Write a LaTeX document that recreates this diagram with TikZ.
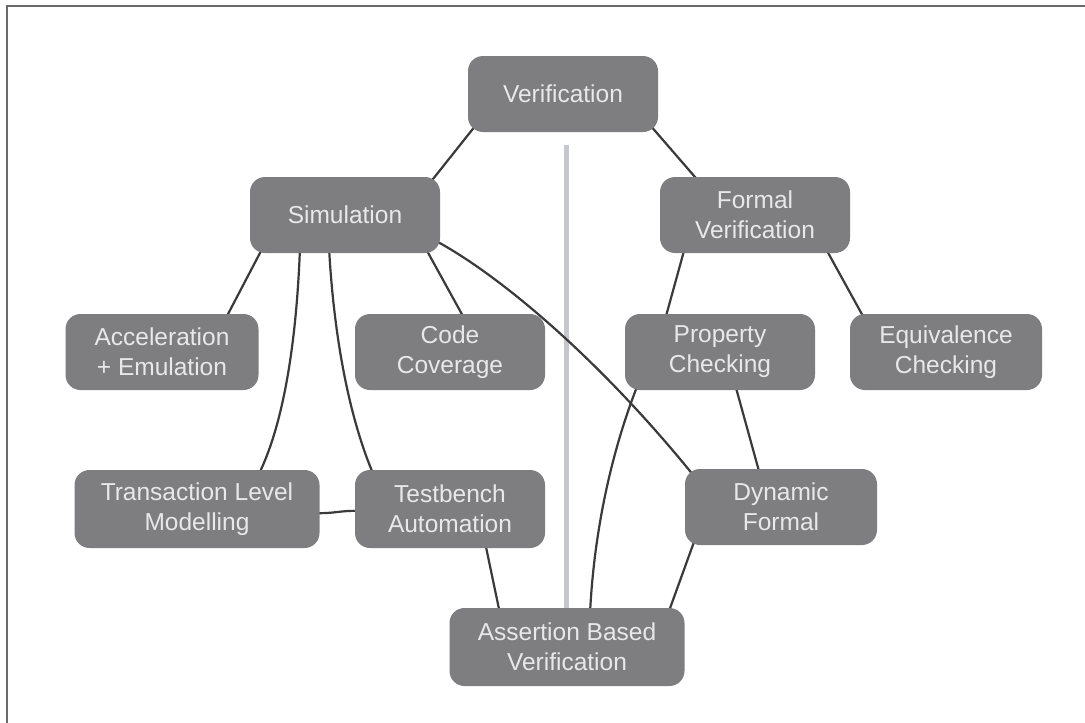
\documentclass[tikz,border=0pt]{standalone}
\usepackage{fontspec}
\setmainfont{Liberation Sans}
\usetikzlibrary{backgrounds}
\definecolor{boxfill}{HTML}{7E7E80}
\definecolor{boxtext}{HTML}{E8E8E8}
\definecolor{linkcol}{HTML}{3A3A3A}
\definecolor{dividercol}{HTML}{C6C6CE}
\definecolor{framecol}{HTML}{6A6A6A}
\begin{document}
\begin{tikzpicture}[x=1pt,y=-1pt,
  topic/.style={rectangle, rounded corners=15pt, fill=boxfill, text=boxtext,
    align=center, inner sep=0pt, minimum width=190pt, minimum height=76pt,
    font=\fontsize{24.5}{30}\selectfont},
  link/.style={draw=linkcol, line width=2.2pt}]
\useasboundingbox (0,0) rectangle (1085,723);

% topics
\node[topic] (ver) at (563,94) {Verification};
\node[topic] (sim) at (345,215) {Simulation};
\node[topic] (fv)  at (755,215) {Formal\\Verification};
\node[topic, minimum width=193pt] (acc) at (162,352) {Acceleration\\+ Emulation};
\node[topic] (cc)  at (450,352) {Code\\Coverage};
\node[topic] (pc)  at (720,352) {Property\\Checking};
\node[topic, minimum width=192pt] (ec)  at (946,352) {Equivalence\\Checking};
\node[topic, minimum width=245pt, minimum height=78pt] (tlm) at (197,509) {Transaction Level\\Modelling};
\node[topic, minimum height=78pt] (tb)  at (450,509) {Testbench\\Automation};
\node[topic, minimum width=192pt] (df)  at (781,507) {Dynamic\\Formal};
\node[topic, minimum width=235pt, minimum height=78pt] (abv) at (567,647) {Assertion Based\\Verification};

\begin{scope}[on background layer]
% page and frame
\fill[white] (0,0) rectangle (1085,723);
\draw[framecol, line width=2pt] (7,740) -- (7,6) -- (1100,6);
% divider between simulation and formal sides
\draw[dividercol, line width=5pt] (566,145) -- (566,617);
% connections, drawn behind the topics
\draw[link] ([xshift=-88pt,yshift=6pt]ver.south) -- ([xshift=85pt,yshift=-6pt]sim.north);
\draw[link] ([xshift=88pt,yshift=6pt]ver.south) -- ([xshift=-55pt,yshift=-6pt]fv.north);
\draw[link] ([xshift=-82pt,yshift=6pt]sim.south) -- ([xshift=63pt,yshift=-6pt]acc.north);
\draw[link] ([xshift=-45pt,yshift=6pt]sim.south) .. controls (297,330) and (286,420) .. ([xshift=61pt,yshift=-6pt]tlm.north);
\draw[link] ([xshift=-16pt,yshift=6pt]sim.south) .. controls (334,340) and (350,420) .. ([xshift=-76pt,yshift=-6pt]tb.north);
\draw[link] ([xshift=80pt,yshift=6pt]sim.south) -- ([xshift=15pt,yshift=-6pt]cc.north);
\draw[link] ([xshift=-6pt,yshift=-25pt]sim.east) .. controls (500,275) and (600,360) .. ([xshift=-88pt,yshift=-6pt]df.north);
\draw[link] ([xshift=-70pt,yshift=6pt]fv.south) -- ([xshift=-55pt,yshift=-6pt]pc.north);
\draw[link] ([xshift=70pt,yshift=6pt]fv.south) -- ([xshift=-81pt,yshift=-6pt]ec.north);
\draw[link] ([xshift=15pt,yshift=6pt]pc.south) -- ([xshift=-21pt,yshift=-6pt]df.north);
\draw[link] ([xshift=-82pt,yshift=6pt]pc.south) .. controls (612,450) and (594,530) .. ([xshift=23pt,yshift=-6pt]abv.north);
\draw[link] ([xshift=-86pt,yshift=6pt]df.south) -- ([xshift=101pt,yshift=-6pt]abv.north);
\draw[link] ([xshift=35pt,yshift=6pt]tb.south) -- ([xshift=-67pt,yshift=-6pt]abv.north);
\draw[link] ([xshift=-6pt,yshift=-4pt]tlm.east) .. controls (335,514) and (340,510) .. ([xshift=6pt,yshift=-2pt]tb.west);
\end{scope}
\end{tikzpicture}
\end{document}
